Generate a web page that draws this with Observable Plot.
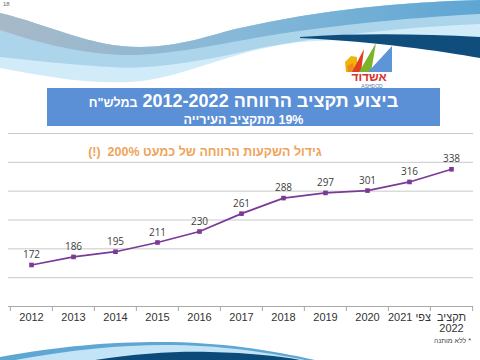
<!DOCTYPE html>
<html>
<head>
<meta charset="utf-8">
<script src="https://cdn.jsdelivr.net/npm/d3@7"></script>
<script src="https://cdn.jsdelivr.net/npm/@observablehq/plot@0.6"></script>
<style>
  body { margin: 0; background: #fff; }
  #wrap { position: relative; width: 480px; height: 360px; overflow: hidden; background: #fff; font-family: "Liberation Sans", Arial, sans-serif; }
  #decor { position: absolute; left: 0; top: 0; }
  #chart { position: absolute; left: 0; top: 0; }
  #chart svg text { direction: rtl; unicode-bidi: embed; }
  .titlebox { position: absolute; left: 47px; top: 88px; width: 393px; height: 38px; background: #5b8fd6; color: #fff; text-align: center; direction: rtl; font-weight: bold; }
  .t1 { font-size: 18px; line-height: 20px; margin-top: 3px; }
  .t1 small { font-size: 12.5px; }
  .t2 { font-size: 12.5px; line-height: 14px; }
  .orange { position: absolute; left: 0; top: 144px; width: 410px; text-align: center; direction: rtl; color: #f0a35a; font-weight: bold; font-size: 12.5px; line-height: 16px; }
  .foot { position: absolute; right: 9px; top: 337px; direction: rtl; font-size: 7px; color: #444; }
  .pnum { position: absolute; left: 3px; top: 1px; font-size: 6px; color: #666; }
</style>
</head>
<body>
<div id="wrap">
  <svg id="decor" width="480" height="360" xmlns="http://www.w3.org/2000/svg">
    <defs>
      <linearGradient id="g1" x1="0" x2="1" y1="0" y2="0">
        <stop offset="0" stop-color="#a7b9c7"/>
        <stop offset="0.5" stop-color="#86b8d8"/>
        <stop offset="1" stop-color="#5ea6d3"/>
      </linearGradient>
    </defs>
    <path d="M0,13 C50,25 90,47 140,47 C180,47 210,35 240,28 C320,10 400,2 480,0 L480,40 C420,38 360,38 300,42 C230,50 180,80 130,82 C80,84 40,75 0,68 Z" fill="#d2ebf8"/>
    <path d="M0,13 C50,25 90,47 140,47 C180,47 210,35 240,28 C320,10 400,2 480,0 L480,24 C400,27 320,37 260,48 C200,62 150,70 110,67 C60,64 30,60 0,57 Z" fill="#acd5ec"/>
    <path d="M0,13 C50,25 90,47 140,47 C180,47 210,35 240,28 C320,10 400,2 480,0 L480,14 C400,18 320,27 260,37 C200,48 160,56 120,55 C70,52 30,40 0,30 Z" fill="url(#g1)"/>
    <path d="M300,37 C360,33 420,34 480,37 L480,58 C440,51 380,42 300,38 Z" fill="#0f4d7d"/>
    <path d="M0,360 L0,357 C60,346 110,342 160,342 C220,342 270,350 315,360 Z" fill="#5fa6d2"/>
    <path d="M15,360 C70,350 120,345 165,345 C220,345 265,352 305,360 Z" fill="#c2e4f6"/>
    <path d="M95,360 C140,353 180,351 210,352 C250,353 280,356 300,360 Z" fill="#0c4a7a"/>
    <!-- logo -->
    <path d="M345,62 L351,56 L357,57 L357,72 L346,72 Z" fill="#f2b40c"/>
    <path d="M347,66 L353,63 L355,72 L348,72 Z" fill="#f08a1c"/>
    <path d="M352,72 L364,49 L361,72 Z" fill="#e0401f"/>
    <path d="M359,72 L376,43 L371,72 Z" fill="#7cb32a"/>
    <path d="M368,72 L392,46 L392,72 Z" fill="#5d95d8"/>
    <text x="369" y="81" text-anchor="middle" font-size="12" font-weight="bold" fill="#d8312a" font-family="Liberation Sans, Arial" direction="rtl">אשדוד</text>
    <text x="372" y="87.5" text-anchor="middle" font-size="5" fill="#5577aa" font-family="Liberation Sans, Arial">ASHDOD</text>
  </svg>
  <div id="chart"></div>
  <div class="titlebox">
    <div class="t1">ביצוע תקציב הרווחה 2012-2022 <small>במלש"ח</small></div>
    <div class="t2">19% מתקציב העירייה</div>
  </div>
  <div class="orange">גידול השקעות הרווחה של כמעט 200%&nbsp; (!)</div>
  <div class="foot">* ללא מותנה</div>
  <div class="pnum">18</div>
</div>
<script>
const years = ["2012", "2013", "2014", "2015", "2016", "2017", "2018", "2019", "2020", "צפי 2021", "תקציב\n2022"];
const values = [172, 186, 195, 211, 230, 261, 288, 297, 301, 316, 338];
const gridValues = [150, 200, 250, 300, 350, 400];
const yDomain = [100, 400];

const data = years.map((year, i) => ({year, value: values[i]}));
const W = 480, mL = 8, mR = 7;
const bw = (W - mL - mR) / years.length;
const purple = "#7b3a96";

const chart = Plot.plot({
  width: W,
  height: 360,
  marginTop: 133,
  marginBottom: 54,
  marginLeft: mL,
  marginRight: mR,
  style: {background: "transparent", fontFamily: "Liberation Sans, Arial, sans-serif", overflow: "visible"},
  x: {type: "band", domain: years, padding: 0, label: null},
  y: {domain: yDomain, axis: null, label: null},
  marks: [
    Plot.ruleY(gridValues, {stroke: "#c9c9c9", strokeWidth: 1}),
    Plot.ruleY([yDomain[0]], {stroke: "#a9a9a9", strokeWidth: 1}),
    Plot.ruleX(years, {x: d => d, y1: yDomain[0], y2: yDomain[0], dx: -bw / 2, insetBottom: -5, stroke: "#a9a9a9"}),
    Plot.ruleX(years.slice(-1), {x: d => d, y1: yDomain[0], y2: yDomain[0], dx: bw / 2, insetBottom: -5, stroke: "#a9a9a9"}),
    Plot.line(data, {x: "year", y: "value", stroke: purple, strokeWidth: 1.7}),
    Plot.dot(data, {x: "year", y: "value", symbol: "square", r: 2.6, fill: purple, stroke: "none"}),
    Plot.text(data, {x: "year", y: "value", text: d => String(d.value), dy: -10, fontSize: 10, fill: "#404040", fontFamily: "Open Sans, sans-serif"}),
    Plot.axisX({tickSize: 0, tickPadding: 7, fontSize: 11, color: "#333", label: null, tickFormat: d => d})
  ]
});
document.getElementById("chart").appendChild(chart);
</script>
</body>
</html>
